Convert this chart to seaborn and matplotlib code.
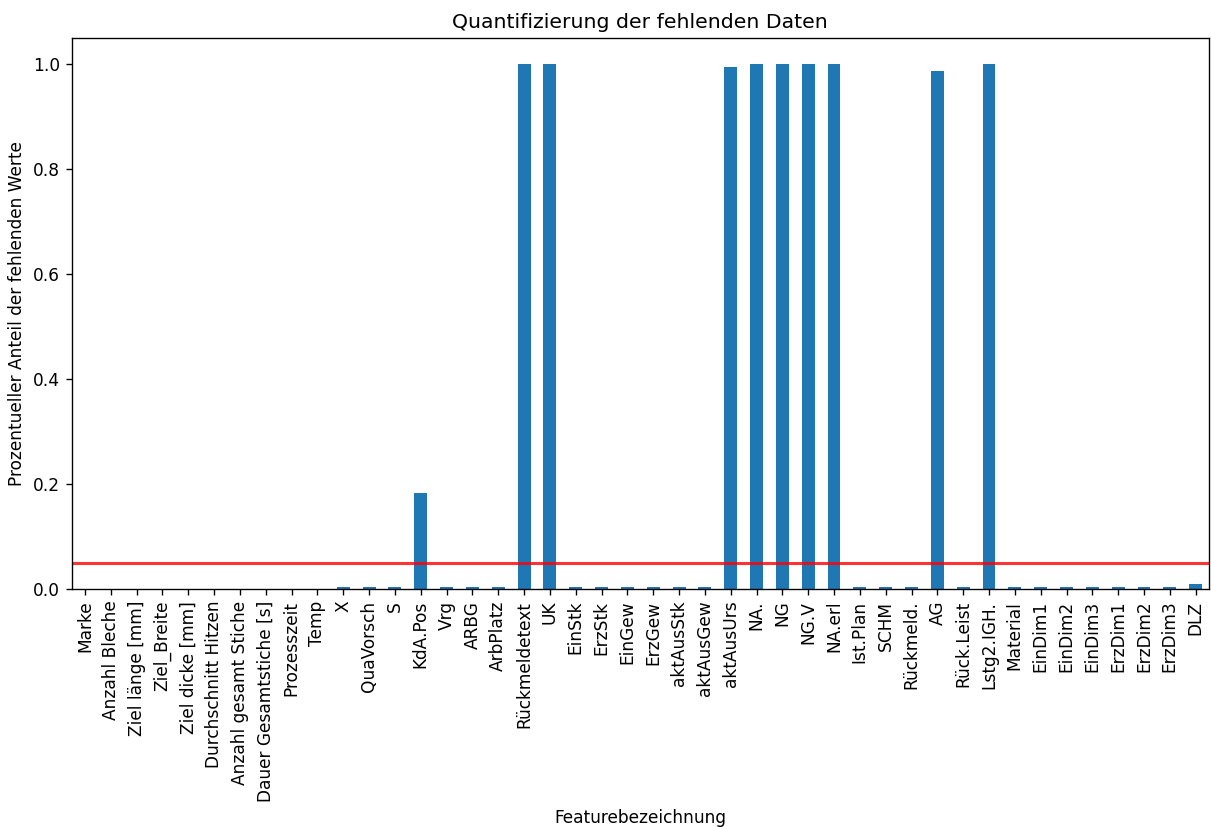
import matplotlib
matplotlib.use("Agg")
import matplotlib.pyplot as plt
import seaborn as sns
import pandas as pd

features = ["Marke", "Anzahl Bleche", "Ziel länge [mm]", "Ziel_Breite", "Ziel dicke [mm]",
            "Durchschnitt Hitzen", "Anzahl gesamt Stiche", "Dauer Gesamtstiche [s]",
            "Prozesszeit", "Temp", "X", "QuaVorsch", "S", "KdA.Pos", "Vrg", "ARBG",
            "ArbPlatz", "Rückmeldetext", "UK", "EinStk", "ErzStk", "EinGew", "ErzGew",
            "aktAusStk", "aktAusGew", "aktAusUrs", "NA.", "NG", "NG.V", "NA.erl",
            "Ist.Plan", "SCHM", "Rückmeld.", "AG", "Rück.Leist", "Lstg2.IGH.",
            "Material", "EinDim1", "EinDim2", "EinDim3", "ErzDim1", "ErzDim2",
            "ErzDim3", "DLZ"]
missing = [0.0, 0.0, 0.0, 0.0, 0.0,
           0.0, 0.0, 0.0,
           0.0, 0.0, 0.003, 0.003, 0.003, 0.183, 0.003, 0.003,
           0.003, 1.0, 1.0, 0.003, 0.003, 0.003, 0.003,
           0.003, 0.003, 0.994, 1.0, 1.0, 1.0, 1.0,
           0.003, 0.003, 0.003, 0.987, 0.003, 1.0,
           0.003, 0.003, 0.003, 0.003, 0.003, 0.003,
           0.003, 0.0095]
threshold = 0.05

df = pd.DataFrame({"feature": features, "missing": missing})

DPI = 122
fig = plt.figure(figsize=(1211 / DPI, 827 / DPI), dpi=DPI)
ax = fig.add_axes([0.0595, 0.288, 0.9385, 0.666])
sns.barplot(data=df, x="feature", y="missing", color="#1f77b4", saturation=1,
            width=0.5, ax=ax)
ax.axhline(threshold, color="red", alpha=0.8, lw=1.8)
ax.set_xlim(-0.5, len(features) - 0.5)
ax.set_ylim(0, 1.05)
ax.set_title("Quantifizierung der fehlenden Daten")
ax.set_xlabel("Featurebezeichnung")
ax.set_ylabel("Prozentueller Anteil der fehlenden Werte")
ax.tick_params(axis="x", rotation=90)
fig.savefig("out.png", dpi=DPI)
